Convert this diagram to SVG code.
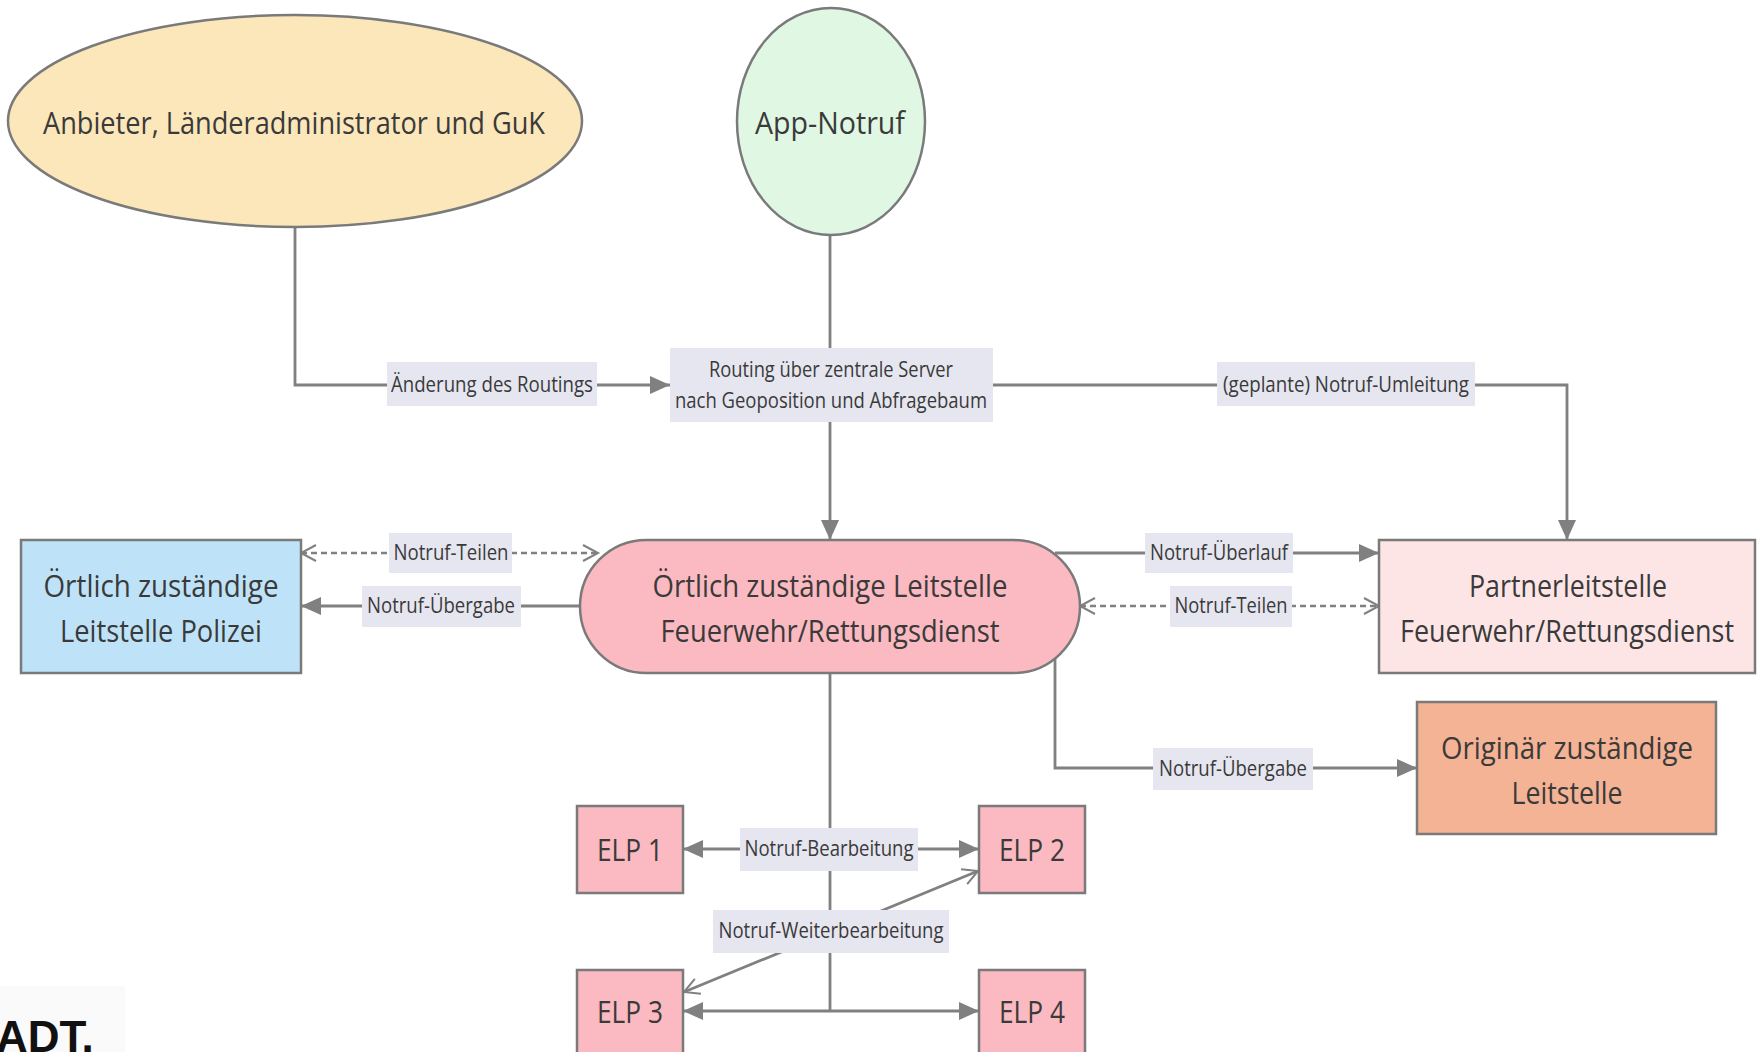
<svg xmlns="http://www.w3.org/2000/svg" width="1764" height="1052" viewBox="0 0 1764 1052">
<defs>
<style>
.nd{stroke:#7a7a7a;stroke-width:2.5}
.big{font-family:"Open Sans","Noto Sans",sans-serif;font-size:31px;fill:#3a3a3a;text-anchor:middle}
.lb{font-family:"Open Sans","Noto Sans",sans-serif;font-size:21px;fill:#3a3a3a;text-anchor:middle}
.lbox{fill:#e6e6f0}
.ln{fill:none;stroke:#808080;stroke-width:2.8}
.dash{stroke-dasharray:6 4;stroke-width:2.4}
</style>
<marker id="ah" markerUnits="userSpaceOnUse" markerWidth="22" markerHeight="20" refX="20" refY="9" orient="auto-start-reverse">
<path d="M0,0 L20,9 L0,18 z" fill="#808080"/>
</marker>
<marker id="oh" markerUnits="userSpaceOnUse" markerWidth="22" markerHeight="22" refX="18" refY="10" orient="auto-start-reverse">
<path d="M3,2 L18,10 L3,18" fill="none" stroke="#808080" stroke-width="2"/>
</marker>
</defs>
<rect width="1764" height="1052" fill="#ffffff"/>

<g id="connectors">
<path class="ln" d="M295,227 V385 H670" marker-end="url(#ah)"/>
<path class="ln" d="M830,235 V348"/>
<path class="ln" d="M830,422 V540" marker-end="url(#ah)"/>
<path class="ln" d="M993,385 H1567 V540" marker-end="url(#ah)"/>
<path class="ln dash" d="M301,553 H598" marker-start="url(#oh)" marker-end="url(#oh)"/>
<path class="ln" d="M580,606 H301" marker-end="url(#ah)"/>
<path class="ln" d="M1055,553 H1379" marker-end="url(#ah)"/>
<path class="ln dash" d="M1080,606 H1379" marker-start="url(#oh)" marker-end="url(#oh)"/>
<path class="ln" d="M1055,658 V768 H1417" marker-end="url(#ah)"/>
<path class="ln" d="M830,673 V1011"/>
<path class="ln" d="M830,849 H683" marker-end="url(#ah)"/>
<path class="ln" d="M830,849 H979" marker-end="url(#ah)"/>
<path class="ln" d="M830,1011 H683" marker-end="url(#ah)"/>
<path class="ln" d="M830,1011 H979" marker-end="url(#ah)"/>
<path class="ln" d="M684,992 L978,871" marker-start="url(#oh)" marker-end="url(#oh)"/>

<rect class="lbox" x="387" y="362" width="210" height="44"/>
<text class="lb" x="492" y="392" textLength="202" lengthAdjust="spacingAndGlyphs">Änderung des Routings</text>
<rect class="lbox" x="1217" y="362" width="258" height="44"/>
<text class="lb" x="1346" y="392" textLength="246" lengthAdjust="spacingAndGlyphs">(geplante) Notruf-Umleitung</text>
<rect class="lbox" x="389" y="533" width="123" height="40"/>
<text class="lb" x="451" y="560" textLength="115" lengthAdjust="spacingAndGlyphs">Notruf-Teilen</text>
<rect class="lbox" x="362" y="586" width="159" height="41"/>
<text class="lb" x="441" y="613" textLength="148" lengthAdjust="spacingAndGlyphs">Notruf-Übergabe</text>
<rect class="lbox" x="1145" y="533" width="148" height="40"/>
<text class="lb" x="1219" y="560" textLength="138" lengthAdjust="spacingAndGlyphs">Notruf-Überlauf</text>
<rect class="lbox" x="1170" y="586" width="122" height="41"/>
<text class="lb" x="1231" y="613" textLength="113" lengthAdjust="spacingAndGlyphs">Notruf-Teilen</text>
<rect class="lbox" x="1153" y="748" width="160" height="42"/>
<text class="lb" x="1233" y="776" textLength="148" lengthAdjust="spacingAndGlyphs">Notruf-Übergabe</text>
<rect class="lbox" x="740" y="828" width="178" height="43"/>
<text class="lb" x="829" y="856" textLength="169" lengthAdjust="spacingAndGlyphs">Notruf-Bearbeitung</text>
<rect class="lbox" x="713" y="910" width="236" height="43"/>
<text class="lb" x="831" y="938" textLength="225" lengthAdjust="spacingAndGlyphs">Notruf-Weiterbearbeitung</text>
</g>

<g id="anbieter">
<ellipse class="nd" cx="295" cy="121" rx="287" ry="106" fill="#fbe7ba"/>
<text class="big" x="294" y="134" textLength="502" lengthAdjust="spacingAndGlyphs">Anbieter, Länderadministrator und GuK</text>
</g>
<g id="app-notruf">
<ellipse class="nd" cx="831" cy="121.5" rx="94" ry="113.5" fill="#e0f7e4"/>
<text class="big" x="830" y="134" textLength="150" lengthAdjust="spacingAndGlyphs">App-Notruf</text>
</g>
<g id="routing">
<rect x="670" y="348" width="323" height="74" fill="#e6e6f0"/>
<text class="lb" x="831" y="377" textLength="244" lengthAdjust="spacingAndGlyphs">Routing über zentrale Server</text>
<text class="lb" x="831" y="408" textLength="312" lengthAdjust="spacingAndGlyphs">nach Geoposition und Abfragebaum</text>
</g>
<g id="leitstelle-fw">
<rect class="nd" x="580" y="540" width="500" height="133" rx="66.5" fill="#fbb9c1"/>
<text class="big" x="830" y="597" textLength="355" lengthAdjust="spacingAndGlyphs">Örtlich zuständige Leitstelle</text>
<text class="big" x="830" y="642" textLength="339" lengthAdjust="spacingAndGlyphs">Feuerwehr/Rettungsdienst</text>
</g>
<g id="polizei">
<rect class="nd" x="21" y="540" width="280" height="133" fill="#bee3f8"/>
<text class="big" x="161" y="597" textLength="235" lengthAdjust="spacingAndGlyphs">Örtlich zuständige</text>
<text class="big" x="161" y="642" textLength="202" lengthAdjust="spacingAndGlyphs">Leitstelle Polizei</text>
</g>
<g id="partner">
<rect class="nd" x="1379" y="540" width="376" height="133" fill="#fde5e6"/>
<text class="big" x="1568" y="597" textLength="198" lengthAdjust="spacingAndGlyphs">Partnerleitstelle</text>
<text class="big" x="1567" y="642" textLength="334" lengthAdjust="spacingAndGlyphs">Feuerwehr/Rettungsdienst</text>
</g>
<g id="originaer">
<rect class="nd" x="1417" y="702" width="299" height="132" fill="#f4b394"/>
<text class="big" x="1567" y="759" textLength="252" lengthAdjust="spacingAndGlyphs">Originär zuständige</text>
<text class="big" x="1567" y="804" textLength="111" lengthAdjust="spacingAndGlyphs">Leitstelle</text>
</g>
<g id="elp1">
<rect class="nd" x="577" y="806" width="106" height="87" fill="#fbb9c1"/>
<text class="big" x="630" y="861" textLength="66" lengthAdjust="spacingAndGlyphs">ELP 1</text>
</g>
<g id="elp2">
<rect class="nd" x="979" y="806" width="106" height="87" fill="#fbb9c1"/>
<text class="big" x="1032" y="861" textLength="66" lengthAdjust="spacingAndGlyphs">ELP 2</text>
</g>
<g id="elp3">
<rect class="nd" x="577" y="970" width="106" height="90" fill="#fbb9c1"/>
<text class="big" x="630" y="1023" textLength="66" lengthAdjust="spacingAndGlyphs">ELP 3</text>
</g>
<g id="elp4">
<rect class="nd" x="979" y="970" width="106" height="90" fill="#fbb9c1"/>
<text class="big" x="1032" y="1023" textLength="66" lengthAdjust="spacingAndGlyphs">ELP 4</text>
</g>
<g id="logo">
<rect x="0" y="986" width="125" height="66" fill="#fafafa"/>
<text x="-4" y="1052" font-family="Liberation Sans, Arial, sans-serif" font-weight="bold" font-size="44" fill="#111">ADT.</text>
</g>
</svg>
